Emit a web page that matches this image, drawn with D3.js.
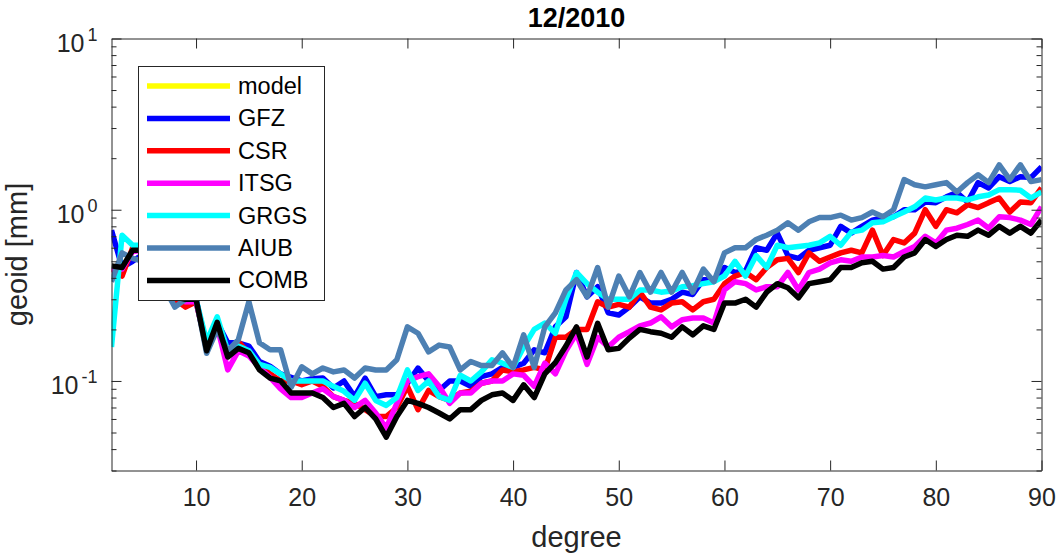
<!DOCTYPE html>
<html><head><meta charset="utf-8">
<script src="https://cdn.jsdelivr.net/npm/d3@7"></script>
<style>body{margin:0;background:#fff}svg{display:block}text{font-family:"Liberation Sans",Arial,Helvetica,sans-serif}</style>
</head><body><svg id="c" width="1056" height="556"></svg>
<script>
// ---------- data ----------
const title = "12/2010";
const xLabel = "degree";
const yLabel = "geoid [mm]";
const degrees = d3.range(2, 91);               // spherical harmonic degree 2..90
const xTicks = [10, 20, 30, 40, 50, 60, 70, 80, 90];
const yMajorTicks = [0.1, 1, 10];
const yMinorTicks = [0.03,0.04,0.05,0.06,0.07,0.08,0.09,0.2,0.3,0.4,0.5,0.6,0.7,0.8,0.9,2,3,4,5,6,7,8,9];
const seriesNames = ["model","GFZ","CSR","ITSG","GRGS","AIUB","COMB"];
const seriesColors = ["#ffff00","#0000ff","#ff0000","#ff00ff","#00ffff","rgb(77,128,179)","#000000"];

const model = []; // not visible in the figure
const GFZ = [0.76,0.46,0.50,0.55,0.45,0.38,0.31,0.30,0.30,0.16,0.22,0.167,0.167,0.16,0.13,0.122,0.11,0.105,0.10,0.103,0.104,0.091,0.100,0.081,0.104,0.081,0.083,0.083,0.097,0.119,0.100,0.088,0.100,0.100,0.093,0.106,0.110,0.120,0.120,0.127,0.152,0.146,0.207,0.237,0.43,0.31,0.355,0.25,0.243,0.27,0.31,0.285,0.285,0.30,0.33,0.32,0.39,0.39,0.46,0.43,0.44,0.60,0.58,0.73,0.54,0.52,0.58,0.60,0.62,0.80,0.73,0.80,0.87,0.90,0.91,1.0,1.0,1.11,1.10,1.19,1.26,1.11,1.44,1.34,1.56,1.46,1.56,1.54,1.78];
const CSR = [0.45,0.41,0.60,0.58,0.46,0.37,0.30,0.27,0.29,0.16,0.21,0.14,0.17,0.145,0.125,0.11,0.10,0.10,0.095,0.10,0.093,0.081,0.077,0.074,0.068,0.062,0.062,0.070,0.093,0.068,0.088,0.081,0.077,0.085,0.087,0.097,0.100,0.116,0.113,0.116,0.120,0.116,0.180,0.180,0.200,0.200,0.290,0.270,0.280,0.270,0.330,0.270,0.260,0.285,0.290,0.260,0.290,0.300,0.370,0.410,0.430,0.390,0.460,0.51,0.52,0.43,0.56,0.50,0.53,0.56,0.58,0.56,0.76,0.54,0.67,0.64,0.73,1.00,0.80,1.00,0.96,1.07,1.03,1.10,1.17,0.97,1.11,1.10,1.34];
const ITSG = [0.44,0.45,0.57,0.58,0.47,0.38,0.31,0.29,0.29,0.16,0.21,0.116,0.15,0.14,0.12,0.105,0.09,0.08,0.08,0.085,0.09,0.081,0.077,0.070,0.077,0.065,0.053,0.074,0.100,0.106,0.110,0.093,0.074,0.085,0.085,0.097,0.100,0.100,0.110,0.108,0.093,0.127,0.110,0.150,0.190,0.125,0.180,0.158,0.18,0.194,0.21,0.218,0.237,0.207,0.228,0.233,0.233,0.218,0.34,0.38,0.37,0.34,0.355,0.355,0.43,0.34,0.43,0.45,0.49,0.51,0.50,0.53,0.53,0.54,0.53,0.57,0.61,0.70,0.64,0.76,0.78,0.82,0.87,0.78,0.91,0.90,0.87,0.82,1.04];
const GRGS = [0.158,0.71,0.62,0.62,0.50,0.42,0.33,0.30,0.30,0.17,0.237,0.15,0.16,0.15,0.125,0.12,0.11,0.10,0.10,0.10,0.10,0.093,0.087,0.077,0.097,0.077,0.072,0.080,0.116,0.088,0.100,0.081,0.077,0.108,0.100,0.113,0.133,0.127,0.120,0.158,0.20,0.218,0.19,0.30,0.43,0.37,0.33,0.30,0.30,0.30,0.34,0.34,0.33,0.335,0.355,0.36,0.37,0.38,0.41,0.50,0.41,0.54,0.46,0.62,0.60,0.61,0.62,0.64,0.70,0.62,0.74,0.76,0.84,0.85,0.91,0.97,1.04,1.17,1.14,1.17,1.17,1.14,1.19,1.22,1.31,1.31,1.30,1.17,1.27];
const AIUB = [0.38,0.56,0.52,0.50,0.42,0.35,0.27,0.30,0.30,0.145,0.20,0.15,0.174,0.29,0.167,0.152,0.152,0.092,0.121,0.11,0.119,0.113,0.116,0.104,0.119,0.116,0.116,0.133,0.207,0.19,0.148,0.162,0.158,0.116,0.13,0.123,0.123,0.146,0.12,0.186,0.12,0.207,0.25,0.34,0.39,0.31,0.46,0.27,0.41,0.31,0.43,0.33,0.43,0.33,0.43,0.33,0.45,0.38,0.56,0.60,0.60,0.67,0.71,0.76,0.84,0.76,0.85,0.90,0.90,0.93,0.87,0.90,0.97,0.91,1.0,1.5,1.4,1.36,1.4,1.44,1.27,1.44,1.6,1.44,1.83,1.5,1.83,1.46,1.5];
const COMB = [0.47,0.46,0.58,0.58,0.47,0.38,0.31,0.30,0.30,0.15,0.22,0.138,0.155,0.146,0.116,0.104,0.100,0.085,0.085,0.085,0.080,0.070,0.074,0.062,0.070,0.060,0.047,0.062,0.077,0.074,0.070,0.065,0.060,0.068,0.068,0.077,0.083,0.085,0.077,0.095,0.080,0.110,0.128,0.160,0.207,0.138,0.217,0.152,0.155,0.178,0.200,0.194,0.190,0.180,0.207,0.186,0.210,0.200,0.285,0.285,0.300,0.270,0.33,0.37,0.35,0.306,0.37,0.38,0.39,0.46,0.46,0.49,0.50,0.45,0.46,0.53,0.56,0.67,0.61,0.67,0.71,0.70,0.76,0.71,0.80,0.73,0.80,0.73,0.87];
const seriesValues = [model, GFZ, CSR, ITSG, GRGS, AIUB, COMB];

// ---------- layout ----------
const L = 111.5, R = 1041.5, T = 38.5, B = 470.5;
const axisColor = "#262626";
const svg = d3.select("#c");
const x = d3.scaleLinear().domain([2, 90]).range([L, R]);
const y = d3.scaleLog().domain([0.03, 10]).range([B, T]);

// clip
svg.append("defs").append("clipPath").attr("id","clip")
  .append("rect").attr("x",L).attr("y",T).attr("width",R-L).attr("height",B-T);

// lines
const line = d3.line().x((d,i)=>x(degrees[i])).y(d=>y(d));
const gLines = svg.append("g").attr("clip-path","url(#clip)");
seriesValues.forEach((vals,k)=>{
  if(!vals.length) return;
  gLines.append("path").datum(vals).attr("d",line)
    .attr("fill","none").attr("stroke",seriesColors[k]).attr("stroke-width",5.5)
    .attr("stroke-linejoin","round");
});

// axes (MATLAB style: ticks inward, box on)
function styleAxis(g){
  g.select(".domain").attr("stroke",axisColor).attr("stroke-width",1);
  g.selectAll(".tick line").attr("stroke",axisColor).attr("stroke-width",1);
  g.selectAll(".tick text").attr("fill",axisColor);
}
// bottom
const gx = svg.append("g").attr("transform",`translate(0,${B})`)
  .call(d3.axisBottom(x).tickValues(xTicks).tickSizeInner(-10).tickSizeOuter(0).tickPadding(18).tickFormat(d3.format("d")));
gx.selectAll(".tick text").attr("font-size",25).attr("dy","0.71em");
styleAxis(gx);
// top
const gxt = svg.append("g").attr("transform",`translate(0,${T})`)
  .call(d3.axisTop(x).tickValues(xTicks).tickSizeInner(-10).tickSizeOuter(0).tickFormat(""));
styleAxis(gxt);
// left major
const gy = svg.append("g").attr("transform",`translate(${L},0)`)
  .call(d3.axisLeft(y).tickValues(yMajorTicks).tickSizeInner(-10).tickSizeOuter(0).tickFormat(""));
styleAxis(gy);
gy.selectAll(".tick").each(function(d){
  const t = d3.select(this).append("text").attr("x",-14).attr("y",13)
    .attr("text-anchor","end").attr("fill",axisColor).attr("font-size",25);
  t.append("tspan").text("10");
  t.append("tspan").attr("dx",3).attr("dy",-11).attr("font-size",18).text(String(Math.round(Math.log10(d))));
});
const gym = svg.append("g").attr("transform",`translate(${L},0)`)
  .call(d3.axisLeft(y).tickValues(yMinorTicks).tickSizeInner(-5).tickSizeOuter(0).tickFormat(""));
styleAxis(gym); gym.select(".domain").remove();
// right
const gyr = svg.append("g").attr("transform",`translate(${R},0)`)
  .call(d3.axisRight(y).tickValues(yMajorTicks).tickSizeInner(-10).tickSizeOuter(0).tickFormat(""));
styleAxis(gyr);
const gyrm = svg.append("g").attr("transform",`translate(${R},0)`)
  .call(d3.axisRight(y).tickValues(yMinorTicks).tickSizeInner(-5).tickSizeOuter(0).tickFormat(""));
styleAxis(gyrm); gyrm.select(".domain").remove();

// labels
svg.append("text").attr("x",(L+R)/2).attr("y",27).attr("text-anchor","middle")
  .attr("font-size",27).attr("font-weight","bold").attr("fill","#000").text(title);
svg.append("text").attr("x",(L+R)/2).attr("y",547).attr("text-anchor","middle")
  .attr("font-size",29).attr("fill",axisColor).text(xLabel);
svg.append("text").attr("transform",`translate(27,${(T+B)/2}) rotate(-90)`).attr("text-anchor","middle")
  .attr("font-size",29).attr("fill",axisColor).text(yLabel);

// legend
const lg = svg.append("g");
lg.append("rect").attr("x",138.5).attr("y",66.5).attr("width",186).attr("height",234)
  .attr("fill","#fff").attr("stroke",axisColor).attr("stroke-width",1);
seriesNames.forEach((n,k)=>{
  const cy = 86 + k*32.4;
  lg.append("line").attr("x1",147).attr("x2",230).attr("y1",cy).attr("y2",cy)
    .attr("stroke",seriesColors[k]).attr("stroke-width",5.5);
  lg.append("text").attr("x",238).attr("y",cy+8).attr("font-size",23.5).attr("fill","#000").text(n);
});
</script></body></html>
